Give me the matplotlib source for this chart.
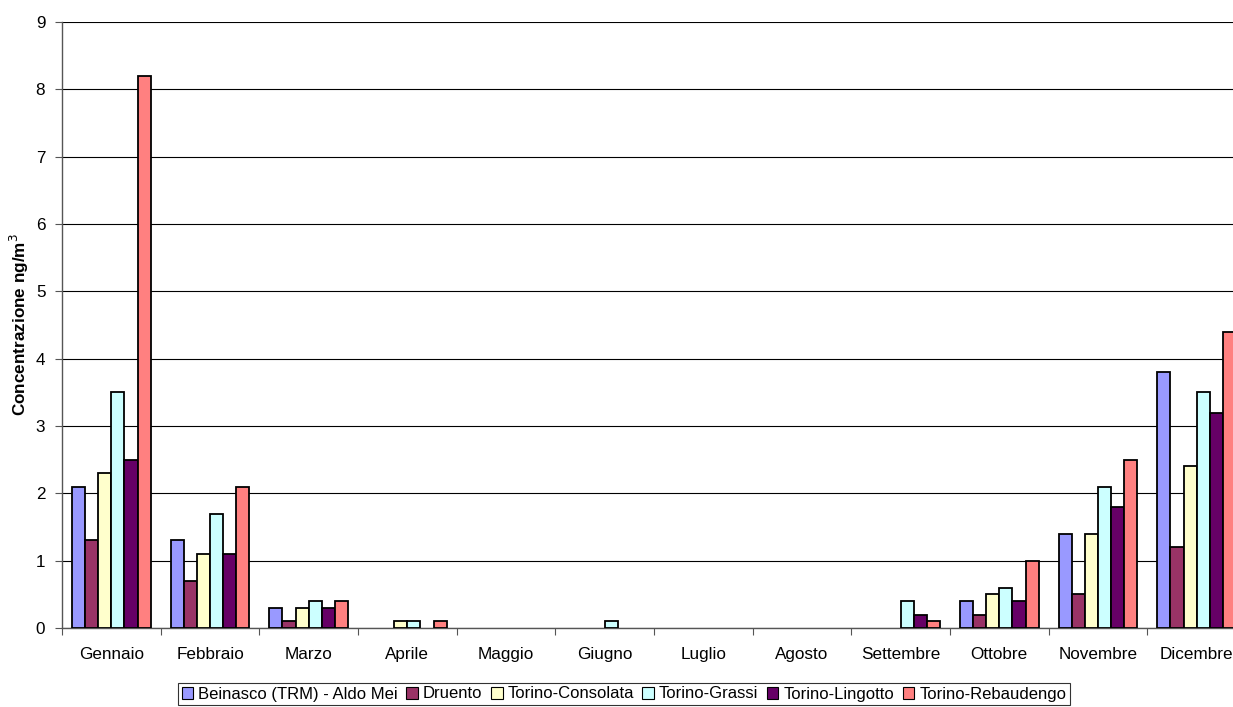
import numpy as np
import matplotlib
matplotlib.use("Agg")
import matplotlib.pyplot as plt
from matplotlib.patches import Patch

plt.rcParams['font.family'] = ['Liberation Sans', 'DejaVu Sans']

months = ["Gennaio", "Febbraio", "Marzo", "Aprile", "Maggio", "Giugno",
          "Luglio", "Agosto", "Settembre", "Ottobre", "Novembre", "Dicembre"]

stations = ["Beinasco (TRM) - Aldo Mei", "Druento", "Torino-Consolata",
            "Torino-Grassi", "Torino-Lingotto", "Torino-Rebaudengo"]

beinasco   = [2.1, 1.3, 0.3, 0.0, 0.0, 0.0, 0.0, 0.0, 0.0, 0.4, 1.4, 3.8]
druento    = [1.3, 0.7, 0.1, 0.0, 0.0, 0.0, 0.0, 0.0, 0.0, 0.2, 0.5, 1.2]
consolata  = [2.3, 1.1, 0.3, 0.1, 0.0, 0.0, 0.0, 0.0, 0.0, 0.5, 1.4, 2.4]
grassi     = [3.5, 1.7, 0.4, 0.1, 0.0, 0.1, 0.0, 0.0, 0.4, 0.6, 2.1, 3.5]
lingotto   = [2.5, 1.1, 0.3, 0.0, 0.0, 0.0, 0.0, 0.0, 0.2, 0.4, 1.8, 3.2]
rebaudengo = [8.2, 2.1, 0.4, 0.1, 0.0, 0.0, 0.0, 0.0, 0.1, 1.0, 2.5, 4.4]

series = [beinasco, druento, consolata, grassi, lingotto, rebaudengo]
colors = ["#9999FF", "#993366", "#FFFFCC", "#CCFFFF", "#660066", "#FF8080"]

W, H = 1233, 707
fig = plt.figure(figsize=(W / 100, H / 100), dpi=100)
left, right, top, bottom = 62, 1246, 22, 628
ax = fig.add_axes([left / W, (H - bottom) / H, (right - left) / W, (bottom - top) / H])

n = len(series)
group = 0.8
bw = group / n
x = np.arange(len(months))
for i, (vals, c) in enumerate(zip(series, colors)):
    v = np.array(vals)
    mask = v > 0
    ax.bar(x[mask] - group / 2 + bw * (i + 0.5), v[mask], width=bw,
           color=c, edgecolor="black", linewidth=1.3, zorder=3)

ax.set_xlim(-0.5, len(months) - 0.5)
ax.set_ylim(0, 9)
ax.set_yticks(range(0, 10))
ax.yaxis.grid(True, color="black", linewidth=0.8, zorder=0)
ax.set_axisbelow(True)

ax.set_xticks(x)
ax.set_xticklabels(months, fontsize=12.3)
ax.set_xticks(np.arange(-0.5, len(months)), minor=True)
ax.tick_params(axis="x", which="major", length=0, pad=14)
ax.tick_params(axis="x", which="minor", length=5, width=0.8, color="#555555")
ax.tick_params(axis="y", length=5, width=0.8, labelsize=12.3, color="#555555", pad=7)

for s in ("top", "right"):
    ax.spines[s].set_visible(False)
for s in ("left", "bottom"):
    ax.spines[s].set_color("#555555")
    ax.spines[s].set_linewidth(1.0)

ax.set_ylabel("Concentrazione ng/m$^{3}$", fontsize=12.3, fontweight="bold",
              va="center", ha="center")
ax.yaxis.set_label_coords((19 - left) / (right - left), 0.5)

handles = [Patch(facecolor=c, edgecolor="black", linewidth=0.8) for c in colors]
leg = fig.legend(handles, stations, loc="center", ncol=6,
                 bbox_to_anchor=(624 / W, 1 - 694 / H), fontsize=12,
                 frameon=True, fancybox=False, edgecolor="black",
                 handlelength=0.7, handleheight=0.7, handletextpad=0.3,
                 columnspacing=0.5, borderpad=0.2, borderaxespad=0)
leg.get_frame().set_linewidth(0.8)

fig.savefig("out.png", dpi=100)
